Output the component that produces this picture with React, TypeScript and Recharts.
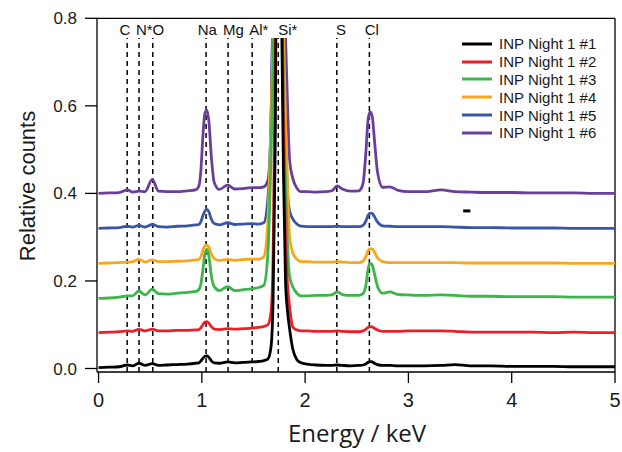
import { Legend, Line, LineChart, ReferenceDot, ReferenceLine, XAxis, YAxis } from 'recharts';

// energy grid (keV) shared by all spectra
const ENERGY = [
  0.00, 0.10, 0.20, 0.28, 0.33, 0.39, 0.45, 0.52, 0.58, 0.66, 0.76, 0.86,
  0.94, 0.97, 0.99, 1.01, 1.03, 1.05, 1.07, 1.09, 1.12, 1.17,
  1.25, 1.32, 1.40, 1.48,
  1.55, 1.60, 1.64, 1.67, 1.69, 1.71, 1.74, 1.77, 1.79, 1.81, 1.83, 1.85, 1.88, 1.92, 1.96,
  2.02, 2.10, 2.20, 2.26, 2.31, 2.36, 2.44, 2.52,
  2.56, 2.59, 2.61, 2.63, 2.65, 2.67, 2.70, 2.75,
  2.82, 2.90, 3.00, 3.15, 3.32, 3.45, 3.60, 3.80, 4.00, 4.20, 4.40, 4.60, 4.80, 5.00,
];

// relative counts, each spectrum already offset as plotted
const NIGHT1_1 = [
  0.002, 0.003, 0.004, 0.008, 0.006, 0.012, 0.007, 0.011, 0.007, 0.008, 0.009, 0.010,
  0.012, 0.013, 0.017, 0.023, 0.028, 0.029, 0.025, 0.018, 0.013, 0.012,
  0.015, 0.013, 0.014, 0.015,
  0.016, 0.018, 0.022, 0.05, 0.16, 0.50, 1.6, 0.85, 0.45, 0.20, 0.13, 0.09, 0.045, 0.02, 0.013,
  0.010, 0.008, 0.007, 0.007, 0.008, 0.007, 0.006, 0.007,
  0.008, 0.011, 0.014, 0.0155, 0.015, 0.012, 0.009, 0.007,
  0.007, 0.006, 0.006, 0.006, 0.007, 0.009, 0.006, 0.006, 0.005, 0.005, 0.005, 0.004, 0.004, 0.004,
];
const NIGHT1_2 = [
  0.082, 0.083, 0.084, 0.086, 0.085, 0.0895, 0.086, 0.090, 0.086, 0.086, 0.087, 0.087,
  0.088, 0.089, 0.093, 0.100, 0.106, 0.107, 0.103, 0.096, 0.090, 0.089,
  0.091, 0.090, 0.091, 0.092,
  0.094, 0.096, 0.100, 0.13, 0.26, 0.70, 1.6, 1.0, 0.55, 0.30, 0.19, 0.14, 0.095, 0.088, 0.086,
  0.086, 0.085, 0.085, 0.085, 0.086, 0.085, 0.084, 0.084,
  0.086, 0.090, 0.094, 0.0955, 0.095, 0.092, 0.088, 0.085,
  0.085, 0.085, 0.086, 0.086, 0.086, 0.085, 0.083, 0.083, 0.083, 0.083, 0.082, 0.083, 0.082, 0.082,
];
const NIGHT1_3 = [
  0.160, 0.161, 0.163, 0.166, 0.166, 0.177, 0.168, 0.181, 0.171, 0.170, 0.172, 0.174,
  0.176, 0.180, 0.192, 0.225, 0.262, 0.272, 0.254, 0.215, 0.187, 0.178,
  0.187, 0.178, 0.180, 0.182,
  0.185, 0.190, 0.265, 0.49, 0.70, 0.95, 1.6, 1.0, 0.62, 0.42, 0.28, 0.21, 0.187, 0.172, 0.166,
  0.166, 0.167, 0.167, 0.168, 0.175, 0.169, 0.167, 0.167,
  0.171, 0.193, 0.228, 0.240, 0.236, 0.218, 0.188, 0.172,
  0.175, 0.169, 0.168, 0.167, 0.168, 0.167, 0.165, 0.165, 0.164, 0.164, 0.164, 0.163, 0.163, 0.163,
];
const NIGHT1_4 = [
  0.240, 0.241, 0.242, 0.243, 0.244, 0.2495, 0.243, 0.248, 0.244, 0.244, 0.245, 0.246,
  0.248, 0.249, 0.255, 0.270, 0.280, 0.282, 0.276, 0.262, 0.251, 0.247,
  0.2495, 0.247, 0.249, 0.250,
  0.250, 0.255, 0.340, 0.57, 0.76, 1.0, 1.6, 1.0, 0.78, 0.567, 0.415, 0.30, 0.265, 0.250, 0.244,
  0.244, 0.243, 0.243, 0.243, 0.244, 0.243, 0.242, 0.242,
  0.245, 0.257, 0.269, 0.274, 0.273, 0.266, 0.253, 0.244,
  0.242, 0.242, 0.242, 0.242, 0.242, 0.242, 0.241, 0.241, 0.241, 0.241, 0.241, 0.240, 0.240, 0.240,
];
const NIGHT1_5 = [
  0.320, 0.321, 0.322, 0.325, 0.323, 0.327, 0.323, 0.329, 0.324, 0.323, 0.325, 0.326,
  0.328, 0.329, 0.335, 0.349, 0.360, 0.3635, 0.357, 0.342, 0.331, 0.328,
  0.333, 0.329, 0.330, 0.331,
  0.330, 0.333, 0.390, 0.567, 0.85, 1.2, 1.6, 1.2, 0.82, 0.567, 0.40, 0.36, 0.342, 0.330, 0.325,
  0.324, 0.324, 0.324, 0.324, 0.325, 0.324, 0.324, 0.324,
  0.327, 0.338, 0.350, 0.355, 0.354, 0.347, 0.335, 0.326,
  0.325, 0.324, 0.324, 0.324, 0.324, 0.323, 0.322, 0.322, 0.321, 0.321, 0.321, 0.320, 0.320, 0.320,
];
const NIGHT1_6 = [
  0.400, 0.401, 0.402, 0.408, 0.403, 0.405, 0.404, 0.432, 0.405, 0.404, 0.404, 0.406,
  0.408, 0.416, 0.450, 0.530, 0.583, 0.590, 0.560, 0.490, 0.425, 0.409,
  0.419, 0.410, 0.411, 0.413,
  0.413, 0.415, 0.430, 0.56, 0.85, 1.2, 1.6, 1.4, 1.0, 0.76, 0.60, 0.475, 0.435, 0.412, 0.404,
  0.404, 0.403, 0.404, 0.406, 0.417, 0.410, 0.405, 0.406,
  0.422, 0.500, 0.570, 0.586, 0.575, 0.525, 0.450, 0.414,
  0.415, 0.407, 0.404, 0.404, 0.408, 0.404, 0.403, 0.402, 0.402, 0.401, 0.401, 0.401, 0.400, 0.400,
];

const SERIES_KEYS = ['n1', 'n2', 'n3', 'n4', 'n5', 'n6'];
const SERIES_NAMES = ['INP Night 1 #1', 'INP Night 1 #2', 'INP Night 1 #3', 'INP Night 1 #4', 'INP Night 1 #5', 'INP Night 1 #6'];
const SERIES_COLORS = ['#000000', '#EC1F28', '#3EB54A', '#F8A61C', '#3A55A5', '#6A3F9B'];

// characteristic X-ray lines (keV) and their labels
const LINE_ENERGIES = [0.277, 0.392, 0.525, 1.041, 1.254, 1.487, 1.740, 2.307, 2.622];
const LABELS = ['C', 'N*O', 'Na', 'Mg', 'Al*', 'Si*', 'S', 'Cl'];
const LABEL_ENERGIES = [0.256, 0.499, 1.053, 1.305, 1.551, 1.833, 2.347, 2.645];

const X_TICKS = [0, 1, 2, 3, 4, 5];
const Y_TICKS = [0, 0.2, 0.4, 0.6];
const Y_MAX_TICK = 0.8;

const rows = ENERGY.map((e, i) => ({
  e,
  n1: NIGHT1_1[i], n2: NIGHT1_2[i], n3: NIGHT1_3[i],
  n4: NIGHT1_4[i], n5: NIGHT1_5[i], n6: NIGHT1_6[i],
}));

const SANS = '"Liberation Sans", Arial, sans-serif';
const X_MIN = -0.015;
const X_MAX = 5;
const Y_MIN = -0.008;
const Y_TOP = 0.755; // plot area ends here, the Si peak is cut off under the labels
const AXIS = { stroke: '#000', strokeWidth: 1.3 };

function SpectrumLegend() {
  return (
    <div style={{ fontFamily: SANS, fontSize: 15, color: '#1a1a1a' }}>
      {SERIES_NAMES.map((name, i) => (
        <div key={name} style={{ display: 'flex', alignItems: 'center', height: 17.8 }}>
          <svg width={30} height={4} style={{ marginRight: 7 }}>
            <line x1={0} y1={2} x2={30} y2={2} stroke={SERIES_COLORS[i]} strokeWidth={3} />
          </svg>
          <span>{name}</span>
        </div>
      ))}
    </div>
  );
}

export default function App() {
  return (
    <div style={{ position: 'absolute', left: 0, top: 0, background: '#fff' }}>
      <LineChart width={622} height={452} data={rows} margin={{ top: 38, right: 7, left: 0, bottom: 0 }}>
        <XAxis
          dataKey="e" type="number" domain={[X_MIN, X_MAX]} ticks={X_TICKS}
          tickSize={11} tickMargin={10} axisLine={AXIS} tickLine={AXIS}
          tick={{ fill: '#1a1a1a', fontSize: 20, fontFamily: SANS }}
          height={80}
          label={{
            content: () => (
              <text x={357} y={442} textAnchor="middle" fill="#1a1a1a" fontSize={24}
                fontFamily='"Open Sans", "Noto Sans", sans-serif'>Energy / keV</text>
            ),
          }}
        />
        <YAxis
          type="number" domain={[Y_MIN, Y_TOP]} ticks={Y_TICKS} allowDataOverflow
          tickFormatter={(v: number) => v.toFixed(1)}
          tickSize={12} tickMargin={8} width={97} axisLine={AXIS} tickLine={AXIS}
          tick={{ fill: '#1a1a1a', fontSize: 17, fontFamily: SANS }}
          label={{
            content: () => (
              <text x={27} y={186} transform="rotate(-90 27 186)" textAnchor="middle"
                dominantBaseline="central" fill="#1a1a1a" fontSize={22} fontFamily={SANS}>Relative counts</text>
            ),
          }}
        />
        {/* frame above the plot area: top edge, left/right edges and the 0.8 tick */}
        <ReferenceLine segment={[{ x: X_MIN, y: Y_MAX_TICK }, { x: X_MAX, y: Y_MAX_TICK }]} ifOverflow="visible" {...AXIS} />
        <ReferenceLine segment={[{ x: X_MIN, y: Y_TOP }, { x: X_MIN, y: Y_MAX_TICK }]} ifOverflow="visible" {...AXIS} />
        <ReferenceLine segment={[{ x: X_MAX, y: Y_MIN }, { x: X_MAX, y: Y_MAX_TICK }]} ifOverflow="visible" {...AXIS} />
        <ReferenceLine segment={[{ x: X_MIN - 0.116, y: Y_MAX_TICK }, { x: X_MIN, y: Y_MAX_TICK }]} ifOverflow="visible" {...AXIS}
          label={{ value: Y_MAX_TICK.toFixed(1), position: 'left', offset: 8, fill: '#1a1a1a', fontSize: 17, fontFamily: SANS }} />
        {LINE_ENERGIES.map((x) => (
          <ReferenceLine key={x} segment={[{ x, y: Y_MIN }, { x, y: Y_TOP }]}
            stroke="#000" strokeWidth={1.5} strokeDasharray="5 4" />
        ))}
        {[...SERIES_KEYS].reverse().map((k) => {
          const i = SERIES_KEYS.indexOf(k);
          return (
            <Line key={k} dataKey={k} name={SERIES_NAMES[i]} type="monotone" stroke={SERIES_COLORS[i]}
              strokeWidth={2.8} dot={false} activeDot={false} isAnimationActive={false} />
          );
        })}
        <ReferenceLine segment={[{ x: 3.53, y: 0.36 }, { x: 3.6, y: 0.36 }]} stroke="#000" strokeWidth={3} />
        {LABELS.map((t, i) => (
          <ReferenceDot key={t} x={LABEL_ENERGIES[i]} y={0.775} r={0} fill="none" stroke="none" ifOverflow="visible"
            label={{ value: t, position: 'center', fill: '#111', fontSize: 15, fontFamily: SANS }} />
        ))}
        <Legend layout="vertical" align="center" verticalAlign="middle"
          wrapperStyle={{ top: 35, left: 462, width: 160 }} content={() => <SpectrumLegend />} />
      </LineChart>
    </div>
  );
}
